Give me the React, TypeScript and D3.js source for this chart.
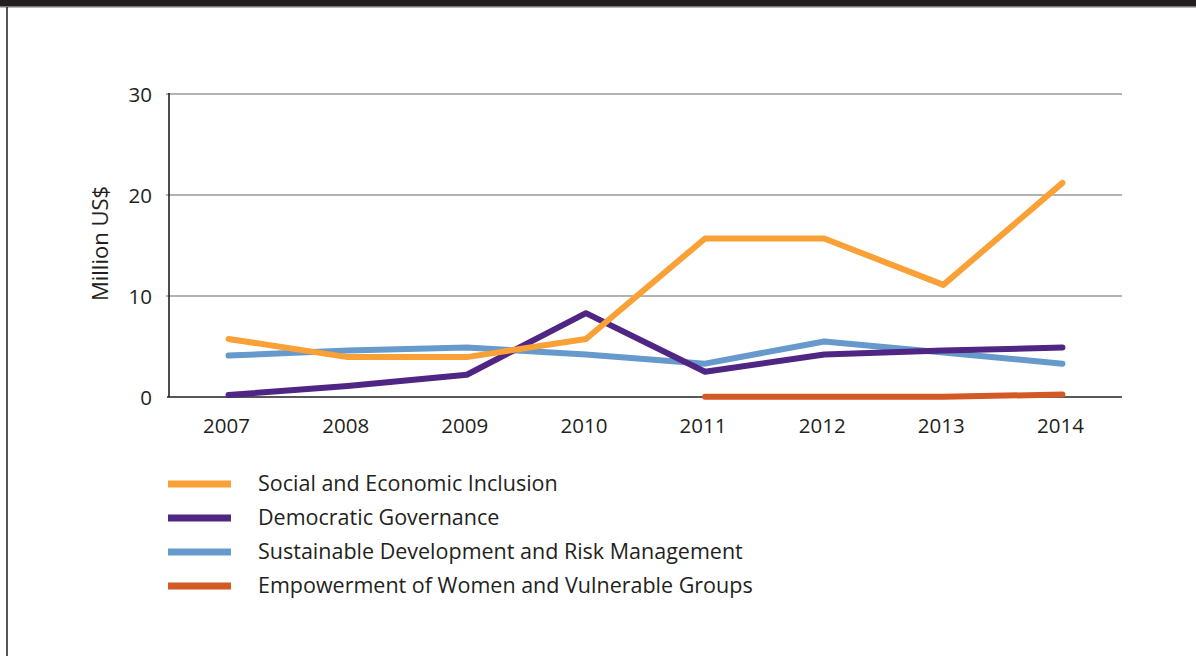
import React from "react";
import * as d3 from "d3";

const years = ["2007", "2008", "2009", "2010", "2011", "2012", "2013", "2014"];
const yTicks = [0, 10, 20, 30];
const social: (number | null)[] = [5.75, 3.95, 3.95, 5.75, 15.7, 15.7, 11.1, 21.2];
const democratic: (number | null)[] = [0.2, 1.1, 2.2, 8.3, 2.5, 4.2, 4.6, 4.9];
const sustainable: (number | null)[] = [4.1, 4.6, 4.9, 4.2, 3.3, 5.5, 4.4, 3.3];
const empowerment: (number | null)[] = [null, null, null, null, 0.02, 0.02, 0.02, 0.25];

const seriesNames = [
  "Social and Economic Inclusion",
  "Democratic Governance",
  "Sustainable Development and Risk Management",
  "Empowerment of Women and Vulnerable Groups",
];
const seriesValues = [social, democratic, sustainable, empowerment];
const seriesColors = ["#f9a036", "#4f2683", "#6699cc", "#d35a27"];

const W = 1196;
const H = 656;
const left = 169;
const right = 1122;
const top = 94;
const bottom = 397;
const ink = "#231f20";
const font = "'Open Sans', 'Noto Sans', sans-serif";

export default function App() {
  const x = d3.scaleBand<string>().domain(years).range([left, right]).padding(0);
  const y = d3.scaleLinear().domain([0, 30]).range([bottom, top]);
  const cx = (yr: string) => (x(yr) as number) + x.bandwidth() / 2;

  const line = d3
    .line<number | null>()
    .defined((d) => d !== null)
    .x((_, i) => cx(years[i]))
    .y((d) => y(d as number));

  const drawOrder = [3, 2, 1, 0];

  return (
    <div style={{ position: "fixed", left: 0, top: 0, width: W, height: H, background: "#fff" }}>
      <svg width={W} height={H} style={{ display: "block" }}>
        <rect x={0} y={0} width={W} height={6} fill={ink} />
        <rect x={0} y={6} width={W} height={1.5} fill="#777" />
        <line x1={7} x2={7} y1={7} y2={H} stroke={ink} strokeWidth={1.5} />

        {yTicks.map((t) => (
          <g key={t}>
            {t > 0 && (
              <line x1={166} x2={right} y1={y(t)} y2={y(t)} stroke="#9a9a9a" strokeWidth={1.6} />
            )}
            <text
              x={152}
              y={y(t) + 3}
              textAnchor="end"
              dominantBaseline="middle"
              fontFamily={font}
              fontSize={20.5}
              fill={ink}
            >
              {t}
            </text>
          </g>
        ))}

        <line x1={left} x2={left} y1={top - 1} y2={bottom} stroke={ink} strokeWidth={1.6} />
        <line x1={left - 2} x2={right} y1={bottom} y2={bottom} stroke={ink} strokeWidth={1.6} />

        {years.map((yr) => (
          <text
            key={yr}
            x={cx(yr) - 2}
            y={428}
            textAnchor="middle"
            dominantBaseline="middle"
            fontFamily={font}
            fontSize={20.5}
            fill={ink}
          >
            {yr}
          </text>
        ))}

        <text
          transform={`translate(102,${(top + bottom) / 2 - 2}) rotate(-90)`}
          textAnchor="middle"
          dominantBaseline="middle"
          fontFamily={font}
          fontSize={22}
          fill={ink}
        >
          Million US$
        </text>

        {drawOrder.map((i) => (
          <path
            key={seriesNames[i]}
            d={line(seriesValues[i]) || ""}
            fill="none"
            stroke={seriesColors[i]}
            strokeWidth={6}
            strokeLinecap="round"
            strokeLinejoin="round"
          />
        ))}

        {seriesNames.map((name, i) => {
          const ly = 484 + i * 34;
          return (
            <g key={name}>
              <rect x={168} y={ly - 3.5} width={63} height={7} fill={seriesColors[i]} />
              <text
                x={258}
                y={ly + 1}
                dominantBaseline="middle"
                fontFamily={font}
                fontSize={21.5}
                fill={ink}
              >
                {name}
              </text>
            </g>
          );
        })}
      </svg>
    </div>
  );
}
